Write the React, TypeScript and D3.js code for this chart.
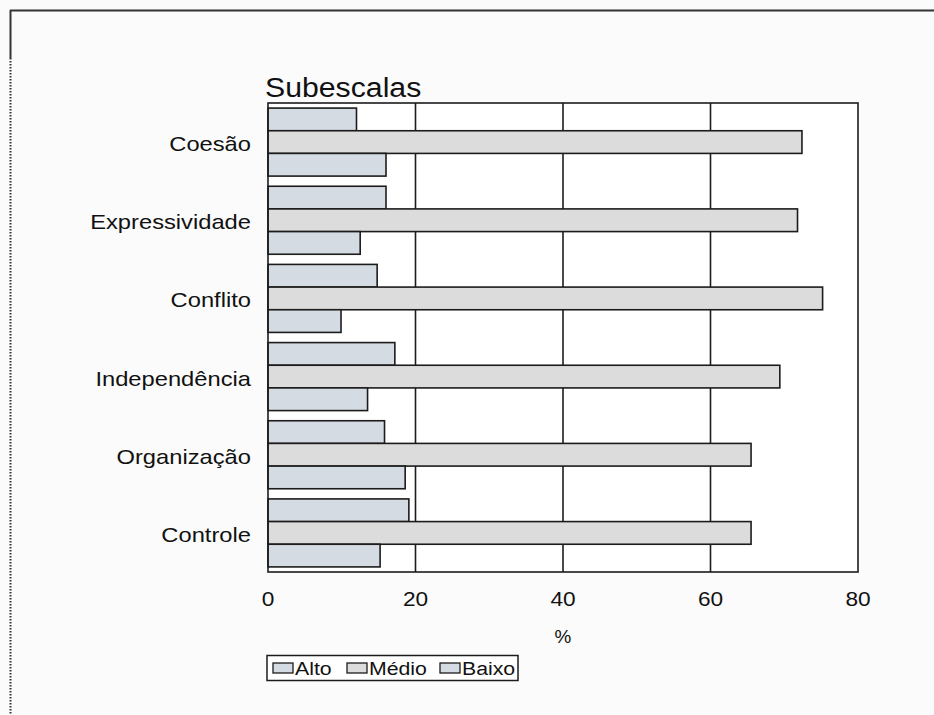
import React from "react";
import * as d3 from "d3";

const categories = ["Coesão", "Expressividade", "Conflito", "Independência", "Organização", "Controle"];
const seriesNames = ["Alto", "Médio", "Baixo"];
const alto = [12.0, 16.0, 14.8, 17.2, 15.8, 19.1];
const medio = [72.4, 71.8, 75.2, 69.4, 65.5, 65.5];
const baixo = [16.0, 12.5, 9.9, 13.5, 18.6, 15.2];
const xTicks = [0, 20, 40, 60, 80];
const fills = ["#d5dbe3", "#dcdcdc", "#d5dbe3"];

const W = 934;
const H = 715;
const left = 268;
const right = 858;
const top = 103;
const bottom = 572;
const font = "'Liberation Sans', Arial, sans-serif";
const ink = "#1c1c1c";

type LabelProps = {
  x: number;
  y: number;
  size: number;
  anchor?: "start" | "middle" | "end";
  stretch?: number;
  children: React.ReactNode;
};

// Text with a slight horizontal stretch, anchored at (x, y)
function Label({ x, y, size, anchor = "start", stretch = 1.12, children }: LabelProps) {
  return (
    <text
      transform={`translate(${x},${y}) scale(${stretch},1)`}
      textAnchor={anchor}
      fontFamily={font}
      fontSize={size}
      fill="#111"
    >
      {children}
    </text>
  );
}

export default function App() {
  const x = d3.scaleLinear().domain([0, 80]).range([left, right]);
  const y = d3.scaleBand<string>().domain(categories).range([top, bottom]).paddingInner(0.13).paddingOuter(0.065);
  const sub = d3.scaleBand<string>().domain(seriesNames).range([0, y.bandwidth()]).padding(0);
  const values = [alto, medio, baixo];
  const legendX = [273, 347, 440];

  return (
    <svg width={W} height={H} style={{ position: "absolute", left: 0, top: 0, background: "#fbfbfb" }}>
      <rect x={0} y={0} width={W} height={H} fill="#fbfbfb" />
      {/* outer frame */}
      <line x1={10} x2={W} y1={10.5} y2={10.5} stroke="#333" strokeWidth={2} />
      <line x1={10.5} x2={10.5} y1={10} y2={58} stroke="#333" strokeWidth={2} />
      <line x1={10.5} x2={10.5} y1={58} y2={H} stroke="#333" strokeWidth={2} strokeDasharray="1.5,1.5" />

      <Label x={265} y={97} size={27}>Subescalas</Label>

      {/* plot area */}
      <rect x={left} y={top} width={right - left} height={bottom - top} fill="#ffffff" />
      {xTicks.slice(1, -1).map((t) => (
        <line key={t} x1={x(t)} x2={x(t)} y1={top} y2={bottom} stroke={ink} strokeWidth={1.6} />
      ))}

      {categories.map((c, i) => (
        <g key={c}>
          {seriesNames.map((s, j) => (
            <rect
              key={s}
              x={x(0)}
              y={(y(c) as number) + (sub(s) as number)}
              width={x(values[j][i]) - x(0)}
              height={sub.bandwidth()}
              fill={fills[j]}
              stroke={ink}
              strokeWidth={1.6}
            />
          ))}
          <Label x={251} y={(y(c) as number) + y.bandwidth() / 2 + 9} size={21} anchor="end" stretch={1.13}>
            {c}
          </Label>
        </g>
      ))}

      <rect x={left} y={top} width={right - left} height={bottom - top} fill="none" stroke={ink} strokeWidth={1.6} />

      {xTicks.map((t) => (
        <Label key={t} x={x(t)} y={606} size={21} anchor="middle" stretch={1.08}>
          {t}
        </Label>
      ))}
      <Label x={563} y={643} size={18} anchor="middle" stretch={1.05}>%</Label>

      {/* legend */}
      <rect x={267} y={655.5} width={251} height={25} fill="#ffffff" stroke={ink} strokeWidth={1.5} />
      {seriesNames.map((s, j) => (
        <g key={s}>
          <rect x={legendX[j]} y={663} width={20} height={10} fill={fills[j]} stroke={ink} strokeWidth={1.3} />
          <Label x={legendX[j] + 22} y={675} size={19} stretch={1.12}>{s}</Label>
        </g>
      ))}
    </svg>
  );
}
